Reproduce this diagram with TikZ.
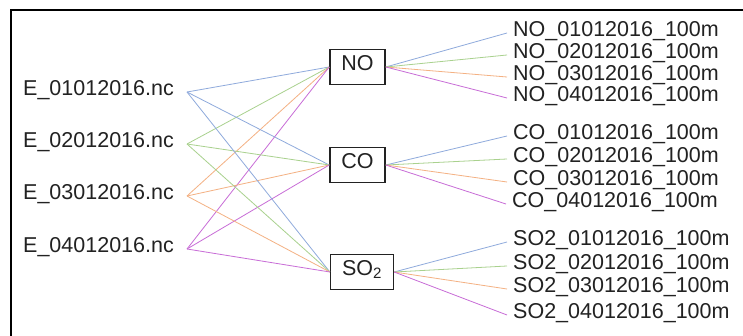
\documentclass[tikz,border=0pt]{standalone}
\usepackage{fontspec}
\setmainfont{Liberation Sans}
\definecolor{cblue}{HTML}{8FAADC}
\definecolor{cgreen}{HTML}{A9D18E}
\definecolor{corange}{HTML}{F4B183}
\definecolor{cpurple}{HTML}{C86DD7}
\definecolor{txt}{HTML}{222222}
\begin{document}
\begin{tikzpicture}[x=1pt,y=-1pt,
  lbl/.style={font=\fontsize{21.5}{26}\selectfont, text=txt, text height=0.716em, text depth=0pt, inner sep=0pt},
  rlbl/.style={lbl, anchor=west, inner xsep=6pt},
  species/.style={lbl, draw=txt, line width=1.3pt, inner xsep=11.5pt, minimum height=35pt, minimum width=55pt},
  con/.style={line width=0.8pt},
  b/.style={con, cblue}, g/.style={con, cgreen}, o/.style={con, corange}, p/.style={con, cpurple}]
\useasboundingbox (0,0) rectangle (743,336);
\fill[white] (0,0) rectangle (743,336);
\draw[line width=2pt, black] (10.5,336) -- (10.5,10.5) -- (743,10.5);

% left inputs
\node[lbl, anchor=west] (e1) at (23,92) {E\_01012016.nc};
\node[lbl, anchor=west] (e2) at (23,144) {E\_02012016.nc};
\node[lbl, anchor=west] (e3) at (23,196) {E\_03012016.nc};
\node[lbl, anchor=west] (e4) at (23,249) {E\_04012016.nc};
\coordinate (c1) at (187,92);
\coordinate (c2) at (187,144);
\coordinate (c3) at (187,196);
\coordinate (c4) at (187,249);

% species boxes
\node[species] (no) at (357.5,67) {NO};
\node[species] (co) at (357.5,165) {CO};
\node[species] (so) at (362,272) {SO\textsubscript{2}};

% outputs
\node[rlbl] (n1) at (507,33) {NO\_01012016\_100m};
\node[rlbl] (n2) at (507,55) {NO\_02012016\_100m};
\node[rlbl] (n3) at (507,77) {NO\_03012016\_100m};
\node[rlbl] (n4) at (507,98) {NO\_04012016\_100m};
\node[rlbl] (k1) at (507,136) {CO\_01012016\_100m};
\node[rlbl] (k2) at (507,159) {CO\_02012016\_100m};
\node[rlbl] (k3) at (507,182) {CO\_03012016\_100m};
\node[rlbl] (k4) at (506,204) {CO\_04012016\_100m};
\node[rlbl] (s1) at (507,242) {SO2\_01012016\_100m};
\node[rlbl] (s2) at (507,266) {SO2\_02012016\_100m};
\node[rlbl] (s3) at (507,289) {SO2\_03012016\_100m};
\node[rlbl] (s4) at (507,315) {SO2\_04012016\_100m};

% left connectors
\foreach \t in {no,co,so}{
  \draw[b] (c1) -- (\t.west);
  \draw[g] (c2) -- (\t.west);
  \draw[o] (c3) -- (\t.west);
  \draw[p] (c4) -- (\t.west);
}

% right connectors
\draw[b] (no.east) -- (n1.west);
\draw[g] (no.east) -- (n2.west);
\draw[o] (no.east) -- (n3.west);
\draw[p] (no.east) -- (n4.west);
\draw[b] (co.east) -- (k1.west);
\draw[g] (co.east) -- (k2.west);
\draw[o] (co.east) -- (k3.west);
\draw[p] (co.east) -- (k4.west);
\draw[b] (so.east) -- (s1.west);
\draw[g] (so.east) -- (s2.west);
\draw[o] (so.east) -- (s3.west);
\draw[p] (so.east) -- (s4.west);
\end{tikzpicture}
\end{document}
